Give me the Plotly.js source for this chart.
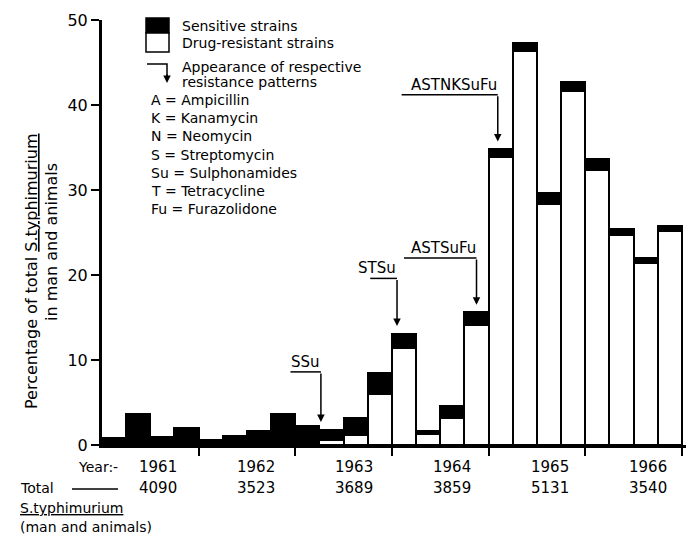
<!DOCTYPE html>
<html>
<head>
<meta charset="utf-8">
<script src="https://cdn.plot.ly/plotly-3.0.1.min.js"></script>
<style>html,body{margin:0;padding:0;background:#fff;}#chart{width:686px;height:536px;}</style>
</head>
<body>
<div id="chart"></div>
<script>
// ---- data ----
const years = ['1961', '1962', '1963', '1964', '1965', '1966'];
const yearTotals = ['4090', '3523', '3689', '3859', '5131', '3540'];
const quarters = ['Q1', 'Q2', 'Q3', 'Q4'];
// percentage of total S. typhimurium per quarter (1961 Q1 ... 1966 Q4)
const resistant = [0, 0, 0, 0, 0, 0, 0, 0, 0, 0.6, 1.2, 6.0, 11.4, 1.3, 3.2, 14.1, 33.9, 46.3, 28.4, 41.6, 32.3, 24.7, 21.4, 25.2];
const sensitive = [0.8, 3.7, 1.0, 2.0, 0.6, 1.05, 1.6, 3.7, 2.2, 1.2, 2.0, 2.5, 1.7, 0.3, 1.4, 1.5, 0.9, 1.0, 1.2, 1.1, 1.4, 0.7, 0.6, 0.6];
const yTicks = [0, 10, 20, 30, 40, 50];
// appearance of resistance patterns: label and quarter index (0-based)
const patterns = ['SSu', 'STSu', 'ASTSuFu', 'ASTNKSuFu'];
const patternQuarter = [9, 12, 15, 16];
const legendAbbrev = ['A = Ampicillin', 'K = Kanamycin', 'N = Neomycin', 'S = Streptomycin', 'Su = Sulphonamides', 'T = Tetracycline', 'Fu = Furazolidone'];

// ---- layout helpers (pixel -> paper) ----
const L = 102, R = 686, T = 20, B = 445;
const px = x => (x - L) / (R - L);
const py = y => (B - y) / (B - T);
const FONT = 'DejaVu Sans';

const idx = resistant.map((_, i) => i);
const labels = idx.map(i => years[Math.floor(i / 4)] + ' ' + quarters[i % 4]);
const totals = idx.map(i => resistant[i] + sensitive[i]);

const traces = [
  {type: 'bar', x: idx, y: resistant, name: 'Drug-resistant strains', text: labels, textposition: 'none', hoverinfo: 'text+y',
   marker: {color: '#ffffff', line: {color: '#000', width: 2}}},
  {type: 'bar', x: idx, y: sensitive, name: 'Sensitive strains', text: labels, textposition: 'none', hoverinfo: 'text+y',
   marker: {color: '#000000', line: {color: '#000', width: 2}}}
];

const shapes = [];
const annotations = [];

// legend boxes
shapes.push({type: 'rect', xref: 'paper', yref: 'paper', x0: px(146), x1: px(169), y0: py(33), y1: py(18), fillcolor: '#000', line: {color: '#000', width: 1.5}});
shapes.push({type: 'rect', xref: 'paper', yref: 'paper', x0: px(146), x1: px(169), y0: py(52), y1: py(33), fillcolor: '#fff', line: {color: '#000', width: 1.5}});
shapes.push({type: 'path', xref: 'paper', yref: 'paper', path: `M ${px(147)} ${py(64)} L ${px(167)} ${py(64)} L ${px(167)} ${py(76)}`, line: {color: '#000', width: 1.5}});
annotations.push({xref: 'paper', yref: 'paper', x: px(167), y: py(83), ax: 0, ay: -10, text: '', showarrow: true, arrowhead: 2, arrowsize: 1, arrowwidth: 1.5, arrowcolor: '#000'});

const legTexts = [['Sensitive strains', 26], ['Drug-resistant strains', 43], ['Appearance of respective', 67], ['resistance patterns', 82]];
legTexts.forEach(([t, y]) => annotations.push({xref: 'paper', yref: 'paper', x: px(180), y: py(y), xanchor: 'left', yanchor: 'middle', text: t, showarrow: false, font: {family: FONT, size: 14, color: '#000'}}));
legendAbbrev.forEach((t, i) => annotations.push({xref: 'paper', yref: 'paper', x: px(149), y: py(100 + i * 18.2), xanchor: 'left', yanchor: 'middle', text: t, showarrow: false, font: {family: FONT, size: 14, color: '#000'}}));

// resistance pattern arrows
const arrowOffset = [-0.44, -0.29, 0.0, -0.12];
const underlineY = [8.6, 19.6, 22.0, 41.2];
const underlineLeft = [7.3, 10.6, 12.0, 11.9];
patterns.forEach((p, k) => {
  const q = patternQuarter[k];
  const xa = q + arrowOffset[k];
  shapes.push({type: 'line', xref: 'x', yref: 'y', x0: underlineLeft[k], x1: xa, y0: underlineY[k], y1: underlineY[k], line: {color: '#000', width: 1.5}});
  annotations.push({xref: 'x', yref: 'y', x: xa, y: totals[q] + 0.9, axref: 'x', ayref: 'y', ax: xa, ay: underlineY[k], text: '', showarrow: true, arrowhead: 2, arrowsize: 1, arrowwidth: 1.5, arrowcolor: '#000'});
  annotations.push({xref: 'x', yref: 'y', x: xa, y: underlineY[k], xanchor: 'right', yanchor: 'bottom', text: p, showarrow: false, font: {family: FONT, size: 15, color: '#000'}, borderpad: 0});
});

// bottom labels
const yYear = 467, yTot = 488;
annotations.push({xref: 'paper', yref: 'paper', x: px(120), y: py(yYear), xanchor: 'right', yanchor: 'middle', text: 'Year:-', showarrow: false, font: {family: FONT, size: 14, color: '#000'}});
annotations.push({xref: 'paper', yref: 'paper', x: px(18), y: py(yTot), xanchor: 'left', yanchor: 'middle', text: 'Total', showarrow: false, font: {family: FONT, size: 14, color: '#000'}});
shapes.push({type: 'line', xref: 'paper', yref: 'paper', x0: px(72), x1: px(118), y0: py(yTot + 1), y1: py(yTot + 1), line: {color: '#000', width: 1.5}});
years.forEach((yr, k) => {
  const xc = 4 * k + 1.5 + 0.3 + k * 0.06;
  annotations.push({xref: 'x', yref: 'paper', x: xc, y: py(yYear), xanchor: 'center', yanchor: 'middle', text: yr, showarrow: false, font: {family: FONT, size: 15, color: '#000'}});
  annotations.push({xref: 'x', yref: 'paper', x: xc, y: py(yTot), xanchor: 'center', yanchor: 'middle', text: yearTotals[k], showarrow: false, font: {family: FONT, size: 15, color: '#000'}});
});
annotations.push({xref: 'paper', yref: 'paper', x: px(18), y: py(508), xanchor: 'left', yanchor: 'middle', text: '<u>S.typhimurium</u>', showarrow: false, font: {family: FONT, size: 14, color: '#000'}});
annotations.push({xref: 'paper', yref: 'paper', x: px(18), y: py(527), xanchor: 'left', yanchor: 'middle', text: '(man and animals)', showarrow: false, font: {family: FONT, size: 14, color: '#000'}});

// y-axis title (two rotated lines)
annotations.push({xref: 'paper', yref: 'paper', x: px(31), y: py(272), xanchor: 'center', yanchor: 'middle', textangle: -90, text: 'Percentage of total <u>S.typhimurium</u>', showarrow: false, font: {family: FONT, size: 16, color: '#000'}});
annotations.push({xref: 'paper', yref: 'paper', x: px(51), y: py(242), xanchor: 'center', yanchor: 'middle', textangle: -90, text: 'in man and animals', showarrow: false, font: {family: FONT, size: 16, color: '#000'}});

const layout = {
  width: 686, height: 536,
  margin: {l: L, r: 686 - R, t: T, b: 536 - B, pad: 0},
  paper_bgcolor: '#fff', plot_bgcolor: '#fff',
  barmode: 'stack', bargap: 0,
  showlegend: false,
  font: {family: FONT, color: '#000'},
  xaxis: {range: [-0.5, 23.67], showgrid: false, zeroline: false, showline: true, linewidth: 3, linecolor: '#000',
          tickmode: 'array', tickvals: [3.5, 7.5, 11.5, 15.5, 19.5, 23.5], ticktext: ['', '', '', '', '', ''],
          ticks: 'outside', ticklen: 8, tickwidth: 2, tickcolor: '#000', fixedrange: true},
  yaxis: {range: [0, 50], showgrid: false, zeroline: false, showline: true, linewidth: 3, linecolor: '#000',
          tickmode: 'array', tickvals: yTicks, ticktext: yTicks.map(String),
          ticks: 'outside', ticklen: 8, tickwidth: 2, tickcolor: '#000', tickfont: {family: FONT, size: 16, color: '#000'}, fixedrange: true},
  shapes: shapes,
  annotations: annotations
};

Plotly.newPlot('chart', traces, layout, {displayModeBar: false, staticPlot: true});
</script>
</body>
</html>
